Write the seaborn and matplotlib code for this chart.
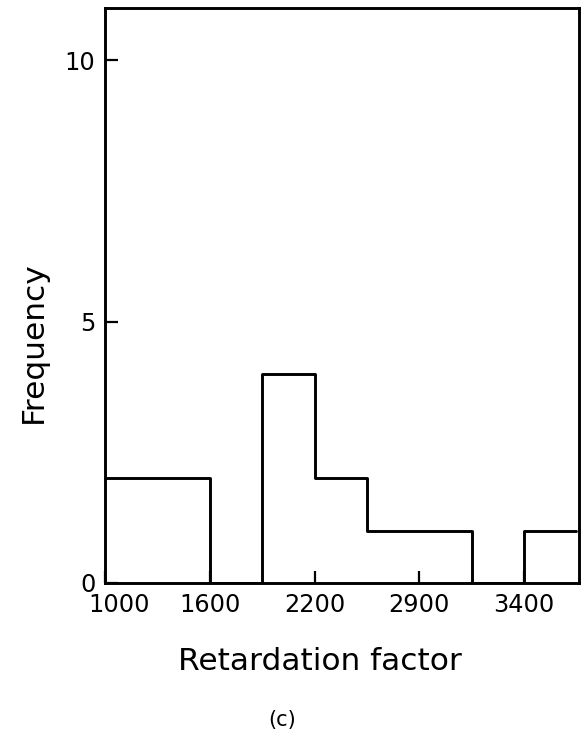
import numpy as np
import pandas as pd
import matplotlib
matplotlib.use("Agg")
import matplotlib.pyplot as plt
import matplotlib.transforms as mtransforms
from matplotlib import font_manager
import seaborn as sns

# ---- data ----
bin_edges = [1000, 1600, 1900, 2200, 2500, 3100, 3400, 3700]
counts = [2, 0, 4, 2, 1, 0, 1]
xtick_values = [1000, 1600, 2200, 2800, 3400]
xtick_labels = ["1000", "1600", "2200", "2900", "3400"]
ytick_values = [0, 5, 10]
xlabel = "Retardation factor"
ylabel = "Frequency"
caption = "(c)"

sns.set_style("ticks")

names = {f.name for f in font_manager.fontManager.ttflist}
if "Liberation Sans Narrow" in names:
    fam = ["Liberation Sans Narrow", "DejaVu Sans"]
    k = 1.0
else:
    fam = ["DejaVu Sans"]
    k = 0.75
plt.rcParams["font.family"] = fam
plt.rcParams["text.color"] = "black"
plt.rcParams["axes.labelcolor"] = "black"
plt.rcParams["xtick.color"] = "black"
plt.rcParams["ytick.color"] = "black"

fig = plt.figure(figsize=(5.86, 7.36), dpi=100)
ax = fig.add_axes([105 / 586, 1 - 583 / 736, 474 / 586, 575 / 736])

edges = np.array(bin_edges, dtype=float)
df = pd.DataFrame({"value": (edges[:-1] + edges[1:]) / 2, "count": counts})
sns.histplot(data=df, x="value", weights="count", bins=list(bin_edges),
             element="step", fill=False, color="black", linewidth=2.1, ax=ax)

ax.set_xlim(1000, 3715)
ax.set_ylim(0, 11)
ax.set_xticks(xtick_values)
ax.set_xticklabels(xtick_labels)
ax.set_yticks(ytick_values)
ax.tick_params(direction="in", length=9, width=1.6, colors="black",
               labelsize=23 * k, pad=7)
for s in ax.spines.values():
    s.set_visible(True)
    s.set_linewidth(2.1)
    s.set_color("black")

# shift the first x tick label right, as in the reference
first = ax.get_xticklabels()[0]
first.set_transform(first.get_transform() +
                    mtransforms.ScaledTranslation(14 / 100, 0, fig.dpi_scale_trans))

ax.set_xlabel(xlabel, fontsize=30 * k, va="center", color="black")
ax.xaxis.set_label_coords((320 - 105) / 474, (583 - 661) / 575)
ax.set_ylabel(ylabel, fontsize=30 * k, va="center", ha="center", color="black")
ax.yaxis.set_label_coords((33 - 105) / 474, (583 - 342) / 575)

fig.text(282 / 586, 1 - 720 / 736, caption, fontsize=20 * k, ha="center",
         va="center", color="black")

fig.savefig("out.png", dpi=100, facecolor="white")
